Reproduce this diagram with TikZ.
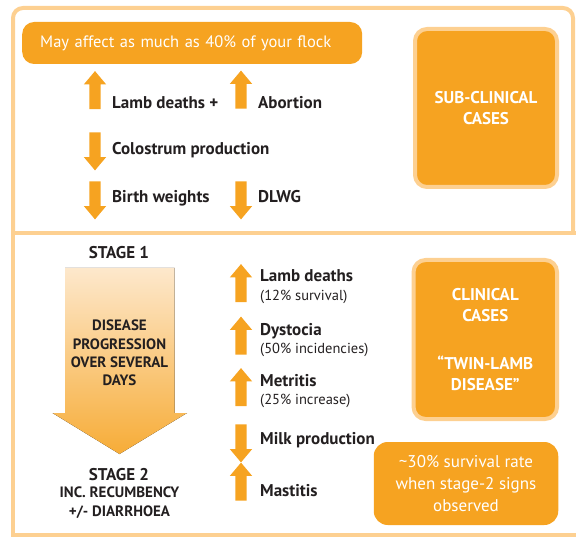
\documentclass[tikz,border=0pt]{standalone}
\usepackage{fontspec}
\setmainfont{PT Sans}
\usetikzlibrary{shapes.arrows}
\definecolor{flockorange}{RGB}{246,163,33}
\definecolor{paleorange}{RGB}{253,208,145}
\definecolor{paleshaft}{RGB}{253,232,204}
\definecolor{inktext}{RGB}{35,31,32}
\begin{document}
\begin{tikzpicture}[
        x=1pt, y=-1pt,
        panel/.style={draw=paleorange, line width=4pt, rounded corners=10pt},
        casebox/.style={draw=paleorange, line width=4pt, fill=flockorange, rounded corners=12pt, text=white, align=center, font=\bfseries\fontsize{17}{21.5}\selectfont},
        notebox/.style={fill=flockorange, rounded corners=14pt, text=white, align=center, font=\fontsize{17}{22}\selectfont},
        banner/.style={fill=flockorange, rounded corners=12pt, text=white, align=left, font=\fontsize{16.5}{18}\selectfont},
        blockarrow/.style={single arrow, fill=flockorange, draw=none, minimum height=38pt, minimum width=22pt, inner sep=5.5pt, single arrow head extend=5.5pt, single arrow tip angle=80},
        arrowup/.style={blockarrow, shape border rotate=90},
        arrowdown/.style={blockarrow, shape border rotate=270},
        effect/.style={anchor=base west, inner sep=0pt, text=inktext, font=\bfseries\fontsize{17}{19}\selectfont},
        detail/.style={anchor=base west, inner sep=0pt, text=inktext, font=\fontsize{14.5}{16}\selectfont},
        stage/.style={inner sep=0pt, text=inktext, align=center, font=\bfseries\fontsize{15}{19}\selectfont},
        progress/.style={top color=paleshaft, bottom color=flockorange!90},
    ]
    \useasboundingbox (0,0) rectangle (576,540);
    \draw[panel] (13,233) -- (13,8) -- (573,8) -- (573,233);
    \draw[draw=paleorange, line width=4pt] (13,233) rectangle (590,535);

    \node[banner, anchor=west, text width=304pt, inner xsep=18pt, minimum height=42pt] (flock) at (22,43) {May affect as much as 40\% of your flock};

    \node[arrowup] (ua1) at (95,93.5) {};
    \node[effect] (lambdeaths) at (112,109) {Lamb deaths +};
    \node[arrowup] (ua2) at (241,93) {};
    \node[effect] (abortion) at (258,109) {Abortion};
    \node[arrowdown] (da1) at (95,148) {};
    \node[effect] (colostrum) at (112,155) {Colostrum production};
    \node[arrowdown] (da2) at (95,197) {};
    \node[effect] (birthweights) at (112,203) {Birth weights};
    \node[arrowdown] (da3) at (241,197) {};
    \node[effect] (dlwg) at (258,203) {DLWG};

    \node[casebox, minimum width=142pt, minimum height=158pt] (subclinical) at (486,108) {SUB-CLINICAL\\CASES};

    \node[stage, anchor=base, font=\bfseries\fontsize{17}{19}\selectfont] (stage1) at (119,259) {STAGE 1};
    \fill[progress] (65,268) -- (174.5,268) -- (174.5,413) -- (187,413) -- (119.5,454) -- (52.5,413) -- (65,413) -- cycle;
    \node[stage, font=\bfseries\fontsize{15}{18.3}\selectfont] (progression) at (119.5,353) {DISEASE\\PROGRESSION\\OVER SEVERAL\\DAYS};
    \node[stage, anchor=base, font=\bfseries\fontsize{17}{19}\selectfont] (stage2) at (119,480) {STAGE 2};
    \node[stage] (recumbency) at (119.5,503) {INC. RECUMBENCY\\+/- DIARRHOEA};

    \node[arrowup] (ub1) at (241,286.5) {};
    \node[effect] (lambdeaths2) at (260,282) {Lamb deaths};
    \node[detail] (survival) at (260,301) {(12\% survival)};
    \node[arrowup] (ub2) at (241,339) {};
    \node[effect] (dystocia) at (260,335) {Dystocia};
    \node[detail] (incidencies) at (260,353) {(50\% incidencies)};
    \node[arrowup] (ub3) at (241,390.5) {};
    \node[effect] (metritis) at (260,386) {Metritis};
    \node[detail] (increase) at (260,404) {(25\% increase)};
    \node[arrowdown] (db1) at (241,440) {};
    \node[effect] (milk) at (260,444) {Milk production};
    \node[arrowup] (ub4) at (241,485) {};
    \node[effect] (mastitis) at (260,496) {Mastitis};

    \node[casebox, minimum width=143.5pt, minimum height=159pt] (clinical) at (485.3,339.5) {CLINICAL\\CASES\\[26pt]``TWIN-LAMB\\DISEASE''};
    \node[notebox, minimum width=184.5pt, minimum height=83pt] (survivalrate) at (466,483.5) {\textasciitilde30\% survival rate\\when stage-2 signs\\observed};
\end{tikzpicture}
\end{document}
